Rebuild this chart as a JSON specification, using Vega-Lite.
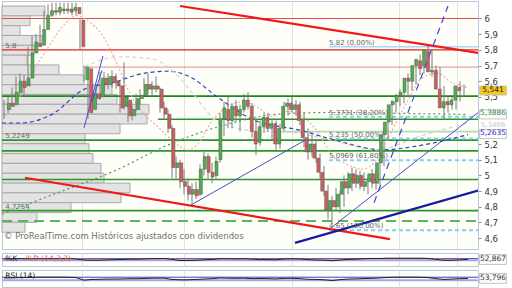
{
"$schema": "https://vega.github.io/schema/vega-lite/v6.json",
"padding": 0,
"spacing": 2,
"background": "#ffffff",
"config": {"view": {"stroke": "#b8c8d8", "fill": "#fffffa"}, "text": {"font": "DejaVu Sans"},
  "axisY": {"labelOverlap": false},
  "locale": {"number": {"decimal": ",", "thousands": ".", "grouping": [3], "currency": ["", " €"]}}},
"datasets": {
"candles": [
{"t":0,"o":5.42,"h":5.48,"l":5.36,"c":5.46},{"t":1,"o":5.46,"h":5.50,"l":5.40,"c":5.44},{"t":2,"o":5.45,"h":5.56,"l":5.44,"c":5.53},{"t":3,"o":5.53,"h":5.63,"l":5.51,"c":5.60},{"t":4,"o":5.60,"h":5.65,"l":5.52,"c":5.56},{"t":5,"o":5.57,"h":5.64,"l":5.50,"c":5.62},{"t":6,"o":5.62,"h":5.82,"l":5.60,"c":5.78},{"t":7,"o":5.78,"h":5.89,"l":5.76,"c":5.85},{"t":8,"o":5.84,"h":5.90,"l":5.79,"c":5.82},{"t":9,"o":5.83,"h":5.96,"l":5.82,"c":5.93},
{"t":10,"o":5.93,"h":6.05,"l":5.91,"c":6.02},{"t":11,"o":6.02,"h":6.09,"l":5.99,"c":6.05},{"t":12,"o":6.05,"h":6.10,"l":6.01,"c":6.04},{"t":13,"o":6.04,"h":6.10,"l":6.02,"c":6.07},{"t":14,"o":6.06,"h":6.10,"l":6.02,"c":6.05},{"t":15,"o":6.05,"h":6.10,"l":6.03,"c":6.06},{"t":16,"o":6.06,"h":6.10,"l":6.03,"c":6.04},{"t":17,"o":6.05,"h":6.10,"l":6.02,"c":6.07},{"t":18,"o":6.07,"h":6.10,"l":6.02,"c":6.03},{"t":19,"o":5.99,"h":6.00,"l":5.80,"c":5.82},
{"t":20,"o":5.61,"h":5.70,"l":5.60,"c":5.69},{"t":21,"o":5.68,"h":5.69,"l":5.36,"c":5.40},{"t":22,"o":5.42,"h":5.56,"l":5.40,"c":5.52},{"t":23,"o":5.52,"h":5.58,"l":5.45,"c":5.49},{"t":24,"o":5.50,"h":5.66,"l":5.48,"c":5.62},{"t":25,"o":5.62,"h":5.66,"l":5.54,"c":5.58},{"t":26,"o":5.58,"h":5.65,"l":5.55,"c":5.63},{"t":27,"o":5.63,"h":5.67,"l":5.56,"c":5.59},{"t":28,"o":5.60,"h":5.65,"l":5.55,"c":5.57},{"t":29,"o":5.57,"h":5.58,"l":5.40,"c":5.43},
{"t":30,"o":5.44,"h":5.72,"l":5.42,"c":5.50},{"t":31,"o":5.48,"h":5.50,"l":5.34,"c":5.38},{"t":32,"o":5.38,"h":5.44,"l":5.35,"c":5.42},{"t":33,"o":5.42,"h":5.52,"l":5.41,"c":5.49},{"t":34,"o":5.49,"h":5.55,"l":5.45,"c":5.51},{"t":35,"o":5.51,"h":5.62,"l":5.50,"c":5.58},{"t":36,"o":5.58,"h":5.65,"l":5.52,"c":5.55},{"t":37,"o":5.55,"h":5.60,"l":5.50,"c":5.57},{"t":38,"o":5.57,"h":5.63,"l":5.53,"c":5.55},{"t":39,"o":5.55,"h":5.56,"l":5.40,"c":5.43},
{"t":40,"o":5.43,"h":5.47,"l":5.36,"c":5.39},{"t":41,"o":5.39,"h":5.42,"l":5.27,"c":5.30},{"t":42,"o":5.30,"h":5.32,"l":4.98,"c":5.05},{"t":43,"o":5.05,"h":5.12,"l":4.97,"c":5.08},{"t":44,"o":5.08,"h":5.10,"l":4.92,"c":4.96},{"t":45,"o":4.96,"h":5.04,"l":4.88,"c":4.93},{"t":46,"o":4.93,"h":4.98,"l":4.84,"c":4.88},{"t":47,"o":4.88,"h":4.95,"l":4.82,"c":4.91},{"t":48,"o":4.91,"h":4.96,"l":4.85,"c":4.87},{"t":49,"o":4.88,"h":5.07,"l":4.87,"c":5.04},
{"t":50,"o":5.04,"h":5.15,"l":5.00,"c":5.12},{"t":51,"o":5.12,"h":5.14,"l":4.98,"c":5.02},{"t":52,"o":5.02,"h":5.08,"l":4.95,"c":4.99},{"t":53,"o":5.00,"h":5.12,"l":4.98,"c":5.09},{"t":54,"o":5.10,"h":5.40,"l":5.08,"c":5.36},{"t":55,"o":5.36,"h":5.47,"l":5.25,"c":5.43},{"t":56,"o":5.42,"h":5.50,"l":5.30,"c":5.35},{"t":57,"o":5.35,"h":5.46,"l":5.30,"c":5.44},{"t":58,"o":5.44,"h":5.48,"l":5.34,"c":5.38},{"t":59,"o":5.38,"h":5.45,"l":5.28,"c":5.42},
{"t":60,"o":5.42,"h":5.52,"l":5.40,"c":5.48},{"t":61,"o":5.48,"h":5.53,"l":5.42,"c":5.44},{"t":62,"o":5.44,"h":5.46,"l":5.24,"c":5.28},{"t":63,"o":5.28,"h":5.36,"l":5.13,"c":5.20},{"t":64,"o":5.21,"h":5.35,"l":5.19,"c":5.31},{"t":65,"o":5.31,"h":5.40,"l":5.27,"c":5.37},{"t":66,"o":5.37,"h":5.40,"l":5.28,"c":5.30},{"t":67,"o":5.30,"h":5.36,"l":5.22,"c":5.33},{"t":68,"o":5.33,"h":5.35,"l":5.15,"c":5.20},{"t":69,"o":5.20,"h":5.33,"l":5.17,"c":5.30},
{"t":70,"o":5.30,"h":5.47,"l":5.28,"c":5.44},{"t":71,"o":5.44,"h":5.49,"l":5.38,"c":5.46},{"t":72,"o":5.46,"h":5.50,"l":5.40,"c":5.42},{"t":73,"o":5.42,"h":5.48,"l":5.38,"c":5.45},{"t":74,"o":5.45,"h":5.47,"l":5.32,"c":5.35},{"t":75,"o":5.35,"h":5.40,"l":5.18,"c":5.24},{"t":76,"o":5.24,"h":5.30,"l":5.10,"c":5.15},{"t":77,"o":5.15,"h":5.26,"l":5.12,"c":5.20},{"t":78,"o":5.20,"h":5.23,"l":5.08,"c":5.11},{"t":79,"o":5.11,"h":5.14,"l":4.98,"c":5.02},
{"t":80,"o":5.02,"h":5.06,"l":4.87,"c":4.90},{"t":81,"o":4.90,"h":4.94,"l":4.72,"c":4.78},{"t":82,"o":4.78,"h":4.87,"l":4.69,"c":4.84},{"t":83,"o":4.84,"h":4.92,"l":4.78,"c":4.80},{"t":84,"o":4.80,"h":4.90,"l":4.76,"c":4.88},{"t":85,"o":4.88,"h":5.00,"l":4.80,"c":4.96},{"t":86,"o":4.96,"h":5.02,"l":4.88,"c":4.92},{"t":87,"o":4.92,"h":5.05,"l":4.90,"c":5.01},{"t":88,"o":5.01,"h":5.04,"l":4.92,"c":4.95},{"t":89,"o":4.95,"h":5.03,"l":4.91,"c":5.00},
{"t":90,"o":5.00,"h":5.02,"l":4.90,"c":4.93},{"t":91,"o":4.93,"h":4.99,"l":4.88,"c":4.96},{"t":92,"o":4.96,"h":5.04,"l":4.92,"c":5.01},{"t":93,"o":5.01,"h":5.03,"l":4.91,"c":4.95},{"t":94,"o":4.95,"h":5.10,"l":4.94,"c":5.08},{"t":95,"o":5.08,"h":5.30,"l":5.06,"c":5.26},{"t":96,"o":5.26,"h":5.36,"l":5.22,"c":5.34},{"t":97,"o":5.34,"h":5.48,"l":5.32,"c":5.45},{"t":98,"o":5.45,"h":5.52,"l":5.40,"c":5.47},{"t":99,"o":5.47,"h":5.55,"l":5.44,"c":5.51},
{"t":100,"o":5.51,"h":5.55,"l":5.46,"c":5.53},{"t":101,"o":5.53,"h":5.65,"l":5.50,"c":5.62},{"t":102,"o":5.62,"h":5.66,"l":5.54,"c":5.60},{"t":103,"o":5.60,"h":5.72,"l":5.58,"c":5.70},{"t":104,"o":5.70,"h":5.77,"l":5.64,"c":5.74},{"t":105,"o":5.73,"h":5.78,"l":5.65,"c":5.68},{"t":106,"o":5.70,"h":5.83,"l":5.68,"c":5.80},{"t":107,"o":5.79,"h":5.80,"l":5.63,"c":5.66},{"t":108,"o":5.66,"h":5.70,"l":5.60,"c":5.67},{"t":109,"o":5.67,"h":5.69,"l":5.52,"c":5.55},
{"t":110,"o":5.55,"h":5.57,"l":5.36,"c":5.43},{"t":111,"o":5.43,"h":5.50,"l":5.40,"c":5.47},{"t":112,"o":5.47,"h":5.50,"l":5.42,"c":5.45},{"t":113,"o":5.45,"h":5.50,"l":5.42,"c":5.48},{"t":114,"o":5.48,"h":5.60,"l":5.47,"c":5.57},{"t":115,"o":5.56,"h":5.58,"l":5.50,"c":5.54}
],
"vp": [
{"hi":6.0795,"lo":6.017,"vol":43},{"hi":6.017,"lo":5.954,"vol":28},{"hi":5.954,"lo":5.892,"vol":18},{"hi":5.892,"lo":5.829,"vol":40},{"hi":5.829,"lo":5.766,"vol":32},{"hi":5.766,"lo":5.704,"vol":25},{"hi":5.704,"lo":5.641,"vol":57},{"hi":5.641,"lo":5.578,"vol":82},{"hi":5.578,"lo":5.516,"vol":110},{"hi":5.516,"lo":5.453,"vol":115},{"hi":5.453,"lo":5.390,"vol":147},{"hi":5.390,"lo":5.328,"vol":145},{"hi":5.328,"lo":5.265,"vol":118},{"hi":5.265,"lo":5.202,"vol":83},{"hi":5.202,"lo":5.139,"vol":87},{"hi":5.139,"lo":5.077,"vol":91},{"hi":5.077,"lo":5.014,"vol":99},{"hi":5.014,"lo":4.951,"vol":102},{"hi":4.951,"lo":4.889,"vol":128},{"hi":4.889,"lo":4.826,"vol":119},{"hi":4.826,"lo":4.763,"vol":69},{"hi":4.763,"lo":4.701,"vol":35},{"hi":4.701,"lo":4.638,"vol":23}
],
"hlines": [
{"p":6.0,"t":-0.5,"t2":118.5,"kind":"red"},
{"p":5.8,"t":-0.5,"t2":118.5,"kind":"redStrong"},
{"p":5.69,"t":20,"t2":118.5,"kind":"redLight"},
{"p":5.82,"t":81.25,"t2":118.5,"kind":"fibTop"},
{"p":5.505,"t":-0.5,"t2":118.5,"kind":"greenStrong"},
{"p":5.358,"t":38.5,"t2":118.5,"kind":"green"},
{"p":5.279,"t":69.5,"t2":118.5,"kind":"greenLight"},
{"p":5.2249,"t":-0.5,"t2":118.5,"kind":"green"},
{"p":5.157,"t":-0.5,"t2":118.5,"kind":"green"},
{"p":4.974,"t":-0.5,"t2":118.5,"kind":"green"},
{"p":4.7754,"t":-0.5,"t2":118.5,"kind":"green"},
{"p":4.71,"t":-0.5,"t2":118.5,"kind":"greenDash"},
{"p":5.3731,"t":81.25,"t2":118.5,"kind":"fib"},
{"p":5.235,"t":81.25,"t2":118.5,"kind":"fib"},
{"p":5.0969,"t":81.25,"t2":118.5,"kind":"fib"},
{"p":4.65,"t":81.25,"t2":118.5,"kind":"fib"}
],
"trends": [
{"t":44,"p":6.0795,"t2":118.75,"p2":5.78,"kind":"redTrend"},
{"t":5.25,"p":4.985,"t2":96.5,"p2":4.594,"kind":"redTrend"},
{"t":72.75,"p":4.57,"t2":118.5,"p2":4.904,"kind":"blueThick"},
{"t":46.5,"p":4.808,"t2":75.25,"p2":5.224,"kind":"blueThin"},
{"t":81.5,"p":4.661,"t2":118.5,"p2":5.40,"kind":"blueThin"},
{"t":20,"p":5.303,"t2":24.75,"p2":5.762,"kind":"blueThin"},
{"t":22,"p":5.468,"t2":24.5,"p2":5.67,"kind":"blueThin"},
{"t":92.5,"p":4.826,"t2":111,"p2":6.0795,"kind":"blueDash"}
],
"mas": [
{"name":"blue","t":-0.5,"p":5.334},{"name":"blue","t":3.75,"p":5.334},{"name":"blue","t":12,"p":5.389},{"name":"blue","t":20,"p":5.548},{"name":"blue","t":27,"p":5.59},{"name":"blue","t":35.25,"p":5.652},{"name":"blue","t":41.25,"p":5.664},{"name":"blue","t":47,"p":5.621},{"name":"blue","t":52.75,"p":5.511},{"name":"blue","t":62,"p":5.358},{"name":"blue","t":74.5,"p":5.285},{"name":"blue","t":84.5,"p":5.212},{"name":"blue","t":94.5,"p":5.163},{"name":"blue","t":104.5,"p":5.193},{"name":"blue","t":116,"p":5.26},
{"name":"green","t":-0.5,"p":4.753},{"name":"green","t":13.25,"p":4.888},{"name":"green","t":27,"p":5.022},{"name":"green","t":42,"p":5.205},{"name":"green","t":57,"p":5.334},{"name":"green","t":67.75,"p":5.389},{"name":"green","t":82,"p":5.401},{"name":"green","t":99.5,"p":5.395},{"name":"green","t":116,"p":5.389},
{"name":"pink","t":-0.5,"p":5.364},{"name":"pink","t":3.25,"p":5.468},{"name":"pink","t":7,"p":5.652},{"name":"pink","t":10.75,"p":5.804},{"name":"pink","t":14.5,"p":5.945},{"name":"pink","t":18.25,"p":6.018},{"name":"pink","t":20.75,"p":5.988},{"name":"pink","t":24.5,"p":5.896},{"name":"pink","t":28.25,"p":5.713},{"name":"pink","t":30.75,"p":5.56},{"name":"pink","t":34.5,"p":5.407},{"name":"pink","t":38.25,"p":5.315},{"name":"pink","t":42,"p":5.224},{"name":"pink","t":45.75,"p":5.163},{"name":"pink","t":48.25,"p":5.193},{"name":"pink","t":52,"p":5.346},{"name":"pink","t":55.75,"p":5.438},{"name":"pink","t":59.5,"p":5.468},{"name":"pink","t":63.25,"p":5.438},{"name":"pink","t":67,"p":5.377},{"name":"pink","t":70.75,"p":5.407},{"name":"pink","t":74.5,"p":5.377},{"name":"pink","t":78.25,"p":5.285},{"name":"pink","t":82,"p":5.132},{"name":"pink","t":85.75,"p":5.071},{"name":"pink","t":89.5,"p":5.04},{"name":"pink","t":93.25,"p":5.101},{"name":"pink","t":97,"p":5.285},{"name":"pink","t":100.75,"p":5.468},{"name":"pink","t":104.5,"p":5.621},{"name":"pink","t":108.25,"p":5.652},{"name":"pink","t":112,"p":5.59},{"name":"pink","t":116,"p":5.56},
{"name":"grey","t":20.25,"p":5.694},{"name":"grey","t":28.75,"p":5.756},{"name":"grey","t":37,"p":5.743},{"name":"grey","t":42,"p":5.67},{"name":"grey","t":47,"p":5.529},{"name":"grey","t":53.25,"p":5.346},{"name":"grey","t":62,"p":5.285},{"name":"grey","t":72,"p":5.273},{"name":"grey","t":82,"p":5.224},{"name":"grey","t":92.75,"p":5.163},{"name":"grey","t":104.5,"p":5.254},{"name":"grey","t":116,"p":5.334}
],
"labels": [
{"t":0.3,"p":5.8,"txt":"5,8"},
{"t":0.3,"p":5.2249,"txt":"5,2249"},
{"t":0.3,"p":4.7754,"txt":"4,7754"},
{"t":81.25,"p":5.82,"txt":"5,82 (0,00%)"},
{"t":81.25,"p":5.3731,"txt":"5,3731 (38,20%)"},
{"t":81.25,"p":5.235,"txt":"5,235 (50,00%)"},
{"t":81.25,"p":5.0969,"txt":"5,0969 (61,80%)"},
{"t":81.25,"p":4.65,"txt":"4,65 (100,00%)"}
],
"notes": [{"t":0,"p":4.617,"txt":"© ProRealTime.com  Históricos ajustados con dividendos"}],
"tags": [
{"p":5.541,"txt":"5,541","kind":"last"},
{"p":5.3886,"txt":"5,3886","kind":"maG"},
{"p":5.3486,"txt":"5,3486","kind":"faded"},
{"p":5.2635,"txt":"5,2635","kind":"maB"}
],
"one": [{"u": 1}],
"stoch": [
{"t":0,"k":71,"d":74},{"t":2,"k":80,"d":76},{"t":4,"k":80,"d":79},{"t":6,"k":76,"d":79},{"t":8,"k":80,"d":78},{"t":10,"k":80,"d":79},{"t":12,"k":80,"d":80},{"t":14,"k":80,"d":80},{"t":16,"k":80,"d":80},{"t":18,"k":71,"d":77},{"t":20,"k":29,"d":60},{"t":22,"k":20,"d":40},{"t":24,"k":24,"d":24},{"t":26,"k":37,"d":27},{"t":28,"k":46,"d":36},{"t":30,"k":54,"d":46},{"t":32,"k":63,"d":54},{"t":34,"k":63,"d":60},{"t":36,"k":80,"d":69},{"t":38,"k":80,"d":74},{"t":40,"k":89,"d":83},{"t":42,"k":54,"d":74},{"t":44,"k":11,"d":51},{"t":46,"k":11,"d":25},{"t":48,"k":20,"d":14},{"t":50,"k":37,"d":23},{"t":52,"k":54,"d":37},{"t":54,"k":80,"d":57},{"t":56,"k":80,"d":71},{"t":58,"k":71,"d":77},{"t":60,"k":80,"d":77},{"t":62,"k":63,"d":71},{"t":64,"k":46,"d":63},{"t":66,"k":46,"d":52},{"t":68,"k":37,"d":43},{"t":70,"k":71,"d":51},{"t":72,"k":76,"d":61},{"t":74,"k":71,"d":73},{"t":76,"k":46,"d":64},{"t":78,"k":29,"d":49},{"t":80,"k":24,"d":33},{"t":82,"k":3,"d":19},{"t":84,"k":29,"d":19},{"t":86,"k":54,"d":29},{"t":88,"k":63,"d":49},{"t":90,"k":80,"d":66},{"t":92,"k":89,"d":77},{"t":94,"k":89,"d":86},{"t":96,"k":97,"d":92},{"t":98,"k":97,"d":94},{"t":100,"k":97,"d":97},{"t":102,"k":97,"d":97},{"t":104,"k":97,"d":97},{"t":106,"k":89,"d":94},{"t":108,"k":54,"d":80},{"t":110,"k":20,"d":54},{"t":112,"k":20,"d":31},{"t":114,"k":37,"d":26},{"t":116,"k":54,"d":37}
],
"rsi": [
{"t":0,"r":60},{"t":2,"r":60},{"t":4,"r":65},{"t":6,"r":65},{"t":8,"r":70},{"t":10,"r":70},{"t":12,"r":70},{"t":14,"r":70},{"t":16,"r":70},{"t":18,"r":65},{"t":20,"r":30},{"t":22,"r":40},{"t":24,"r":42},{"t":26,"r":45},{"t":28,"r":45},{"t":30,"r":47},{"t":32,"r":50},{"t":34,"r":50},{"t":36,"r":55},{"t":38,"r":57},{"t":40,"r":57},{"t":42,"r":40},{"t":44,"r":35},{"t":46,"r":35},{"t":48,"r":40},{"t":50,"r":45},{"t":52,"r":50},{"t":54,"r":60},{"t":56,"r":57},{"t":58,"r":55},{"t":60,"r":57},{"t":62,"r":50},{"t":64,"r":52},{"t":66,"r":50},{"t":68,"r":47},{"t":70,"r":55},{"t":72,"r":55},{"t":74,"r":50},{"t":76,"r":42},{"t":78,"r":40},{"t":80,"r":35},{"t":82,"r":25},{"t":84,"r":37},{"t":86,"r":45},{"t":88,"r":47},{"t":90,"r":52},{"t":92,"r":55},{"t":94,"r":60},{"t":96,"r":67},{"t":98,"r":70},{"t":100,"r":70},{"t":102,"r":70},{"t":104,"r":70},{"t":106,"r":65},{"t":108,"r":50},{"t":110,"r":40},{"t":112,"r":45},{"t":114,"r":50},{"t":116,"r":52}
]
},
"vconcat": [
{
"width": 476, "height": 248,
"resolve": {"scale": {"x": "independent", "color": "independent", "strokeWidth": "independent", "strokeDash": "independent"}},
"layer": [
{"data": {"name": "vp"},
 "mark": {"type": "rect", "fill": "#e3e3e3", "stroke": "#a8a8a8", "strokeWidth": 1},
 "encoding": {
  "x": {"field": "vol", "type": "quantitative", "scale": {"domain": [0, 476], "nice": false, "zero": false}, "axis": null},
  "x2": {"datum": 0},
  "y": {"field": "hi", "type": "quantitative", "scale": {"domain": [4.563, 6.0795], "nice": false, "zero": false},
        "axis": {"orient": "right", "title": null, "grid": false, "values": [4.6,4.7,4.8,4.9,5.0,5.1,5.2,5.5,5.6,5.7,5.8,5.9,6.0], "format": "~g", "tickSize": 3, "tickColor": "#888888", "domainColor": "#b8c8d8", "labelOverlap": false, "labelFontSize": 8.5, "labelFont": "DejaVu Sans", "labelColor": "#333333", "labelPadding": 3}},
  "y2": {"field": "lo"}
 }},
{"data": {"name": "hlines"},
 "mark": {"type": "rule"},
 "encoding": {
  "x": {"field": "t", "type": "quantitative", "scale": {"domain": [-0.5, 118.5], "nice": false, "zero": false},
   "axis": {"grid": true, "gridColor": "#e2e2e2", "values": [19.5, 45, 72, 98.75, 113.25], "labels": false, "ticks": false, "domain": false, "title": null}},
  "x2": {"field": "t2"},
  "y": {"field": "p", "type": "quantitative", "scale": {"domain": [4.563, 6.0795], "nice": false, "zero": false},
        "axis": {"orient": "right", "title": null, "grid": false, "values": [4.6,4.7,4.8,4.9,5.0,5.1,5.2,5.5,5.6,5.7,5.8,5.9,6.0], "format": "~g", "tickSize": 3, "tickColor": "#888888", "domainColor": "#b8c8d8", "labelOverlap": false, "labelFontSize": 8.5, "labelFont": "DejaVu Sans", "labelColor": "#333333", "labelPadding": 3}},
  "color": {"field": "kind", "type": "nominal", "legend": null, "scale": {"domain": ["red","redStrong","redLight","fibTop","greenStrong","green","greenLight","greenDash","fib"], "range": ["#e84a4a","#e82020","#f2a0a0","#a8d8f2","#178a17","#2a962a","#b0dcb0","#5cb45c","#8ccbf0"]}},
  "strokeWidth": {"field": "kind", "type": "nominal", "legend": null, "scale": {"domain": ["red","redStrong","redLight","fibTop","greenStrong","green","greenLight","greenDash","fib"], "range": [1.2, 2, 1.6, 2.5, 2.2, 1.4, 2.5, 1.6, 1.2]}},
  "strokeDash": {"field": "kind", "type": "nominal", "legend": null, "scale": {"domain": ["red","redStrong","redLight","fibTop","greenStrong","green","greenLight","greenDash","fib"], "range": [[1,0],[1,0],[1,0],[1,0],[1,0],[1,0],[1,0],[10,6],[4,3]]}}
 }},
{"data": {"name": "mas"},
 "mark": {"type": "line", "strokeWidth": 1.2, "interpolate": "monotone", "clip": true},
 "encoding": {
  "x": {"field": "t", "type": "quantitative", "scale": {"domain": [-0.5, 118.5], "nice": false, "zero": false}, "axis": null},
  "y": {"field": "p", "type": "quantitative", "scale": {"domain": [4.563, 6.0795], "nice": false, "zero": false},
        "axis": {"orient": "right", "title": null, "grid": false, "values": [4.6,4.7,4.8,4.9,5.0,5.1,5.2,5.5,5.6,5.7,5.8,5.9,6.0], "format": "~g", "tickSize": 3, "tickColor": "#888888", "domainColor": "#b8c8d8", "labelOverlap": false, "labelFontSize": 8.5, "labelFont": "DejaVu Sans", "labelColor": "#333333", "labelPadding": 3}},
  "color": {"field": "name", "type": "nominal", "legend": null, "scale": {"domain": ["blue","green","pink","grey"], "range": ["#3a3ab8","#4a9a5a","#f4a8a8","#d2d2d2"]}},
  "strokeDash": {"field": "name", "type": "nominal", "legend": null, "scale": {"domain": ["blue","green","pink","grey"], "range": [[4,3],[2,3],[2,2],[4,3]]}}
 }},
{"data": {"name": "candles"},
 "mark": {"type": "rule", "color": "#7a7a7a", "strokeWidth": 1, "clip": true},
 "encoding": {
  "x": {"field": "t", "type": "quantitative", "scale": {"domain": [-0.5, 118.5], "nice": false, "zero": false}, "axis": null},
  "y": {"field": "l", "type": "quantitative", "scale": {"domain": [4.563, 6.0795], "nice": false, "zero": false},
        "axis": {"orient": "right", "title": null, "grid": false, "values": [4.6,4.7,4.8,4.9,5.0,5.1,5.2,5.5,5.6,5.7,5.8,5.9,6.0], "format": "~g", "tickSize": 3, "tickColor": "#888888", "domainColor": "#b8c8d8", "labelOverlap": false, "labelFontSize": 8.5, "labelFont": "DejaVu Sans", "labelColor": "#333333", "labelPadding": 3}},
  "y2": {"field": "h"}
 }},
{"data": {"name": "candles"},
 "mark": {"type": "bar", "size": 3, "stroke": "#555555", "strokeWidth": 0.5, "clip": true},
 "encoding": {
  "x": {"field": "t", "type": "quantitative", "scale": {"domain": [-0.5, 118.5], "nice": false, "zero": false}, "axis": null},
  "y": {"field": "o", "type": "quantitative", "scale": {"domain": [4.563, 6.0795], "nice": false, "zero": false},
        "axis": {"orient": "right", "title": null, "grid": false, "values": [4.6,4.7,4.8,4.9,5.0,5.1,5.2,5.5,5.6,5.7,5.8,5.9,6.0], "format": "~g", "tickSize": 3, "tickColor": "#888888", "domainColor": "#b8c8d8", "labelOverlap": false, "labelFontSize": 8.5, "labelFont": "DejaVu Sans", "labelColor": "#333333", "labelPadding": 3}},
  "y2": {"field": "c"},
  "color": {"condition": {"test": "datum.c >= datum.o", "value": "#4cb04c"}, "value": "#d45c5c"}
 }},
{"data": {"name": "trends"},
 "transform": [{"filter": "datum.kind == 'redTrend'"}],
 "mark": {"type": "rule", "clip": true, "color": "#f01818", "strokeWidth": 2.2},
 "encoding": {
  "x": {"field": "t", "type": "quantitative", "scale": {"domain": [-0.5, 118.5], "nice": false, "zero": false}, "axis": null},
  "x2": {"field": "t2"},
  "y": {"field": "p", "type": "quantitative", "scale": {"domain": [4.563, 6.0795], "nice": false, "zero": false},
        "axis": {"orient": "right", "title": null, "grid": false, "values": [4.6,4.7,4.8,4.9,5.0,5.1,5.2,5.5,5.6,5.7,5.8,5.9,6.0], "format": "~g", "tickSize": 3, "tickColor": "#888888", "domainColor": "#b8c8d8", "labelOverlap": false, "labelFontSize": 8.5, "labelFont": "DejaVu Sans", "labelColor": "#333333", "labelPadding": 3}},
  "y2": {"field": "p2"}
 }},
{"data": {"name": "trends"},
 "transform": [{"filter": "datum.kind == 'blueThick'"}],
 "mark": {"type": "rule", "clip": true, "color": "#1a1aa0", "strokeWidth": 2.2},
 "encoding": {
  "x": {"field": "t", "type": "quantitative", "scale": {"domain": [-0.5, 118.5], "nice": false, "zero": false}, "axis": null},
  "x2": {"field": "t2"},
  "y": {"field": "p", "type": "quantitative", "scale": {"domain": [4.563, 6.0795], "nice": false, "zero": false},
        "axis": {"orient": "right", "title": null, "grid": false, "values": [4.6,4.7,4.8,4.9,5.0,5.1,5.2,5.5,5.6,5.7,5.8,5.9,6.0], "format": "~g", "tickSize": 3, "tickColor": "#888888", "domainColor": "#b8c8d8", "labelOverlap": false, "labelFontSize": 8.5, "labelFont": "DejaVu Sans", "labelColor": "#333333", "labelPadding": 3}},
  "y2": {"field": "p2"}
 }},
{"data": {"name": "trends"},
 "transform": [{"filter": "datum.kind == 'blueThin'"}],
 "mark": {"type": "rule", "clip": true, "color": "#4b4bd0", "strokeWidth": 1},
 "encoding": {
  "x": {"field": "t", "type": "quantitative", "scale": {"domain": [-0.5, 118.5], "nice": false, "zero": false}, "axis": null},
  "x2": {"field": "t2"},
  "y": {"field": "p", "type": "quantitative", "scale": {"domain": [4.563, 6.0795], "nice": false, "zero": false},
        "axis": {"orient": "right", "title": null, "grid": false, "values": [4.6,4.7,4.8,4.9,5.0,5.1,5.2,5.5,5.6,5.7,5.8,5.9,6.0], "format": "~g", "tickSize": 3, "tickColor": "#888888", "domainColor": "#b8c8d8", "labelOverlap": false, "labelFontSize": 8.5, "labelFont": "DejaVu Sans", "labelColor": "#333333", "labelPadding": 3}},
  "y2": {"field": "p2"}
 }},
{"data": {"name": "trends"},
 "transform": [{"filter": "datum.kind == 'blueDash'"}],
 "mark": {"type": "rule", "clip": true, "color": "#4646d2", "strokeWidth": 1.2, "strokeDash": [7, 5]},
 "encoding": {
  "x": {"field": "t", "type": "quantitative", "scale": {"domain": [-0.5, 118.5], "nice": false, "zero": false}, "axis": null},
  "x2": {"field": "t2"},
  "y": {"field": "p", "type": "quantitative", "scale": {"domain": [4.563, 6.0795], "nice": false, "zero": false},
        "axis": {"orient": "right", "title": null, "grid": false, "values": [4.6,4.7,4.8,4.9,5.0,5.1,5.2,5.5,5.6,5.7,5.8,5.9,6.0], "format": "~g", "tickSize": 3, "tickColor": "#888888", "domainColor": "#b8c8d8", "labelOverlap": false, "labelFontSize": 8.5, "labelFont": "DejaVu Sans", "labelColor": "#333333", "labelPadding": 3}},
  "y2": {"field": "p2"}
 }},
{"data": {"name": "labels"},
 "mark": {"type": "text", "align": "left", "baseline": "bottom", "dy": -1, "fontSize": 7, "color": "#666666"},
 "encoding": {
  "x": {"field": "t", "type": "quantitative", "scale": {"domain": [-0.5, 118.5], "nice": false, "zero": false}, "axis": null},
  "y": {"field": "p", "type": "quantitative", "scale": {"domain": [4.563, 6.0795], "nice": false, "zero": false},
        "axis": {"orient": "right", "title": null, "grid": false, "values": [4.6,4.7,4.8,4.9,5.0,5.1,5.2,5.5,5.6,5.7,5.8,5.9,6.0], "format": "~g", "tickSize": 3, "tickColor": "#888888", "domainColor": "#b8c8d8", "labelOverlap": false, "labelFontSize": 8.5, "labelFont": "DejaVu Sans", "labelColor": "#333333", "labelPadding": 3}},
  "text": {"field": "txt"}
 }},
{"data": {"name": "notes"},
 "mark": {"type": "text", "align": "left", "baseline": "middle", "fontSize": 8.5, "color": "#707070"},
 "encoding": {
  "x": {"field": "t", "type": "quantitative", "scale": {"domain": [-0.5, 118.5], "nice": false, "zero": false}, "axis": null},
  "y": {"field": "p", "type": "quantitative", "scale": {"domain": [4.563, 6.0795], "nice": false, "zero": false},
        "axis": {"orient": "right", "title": null, "grid": false, "values": [4.6,4.7,4.8,4.9,5.0,5.1,5.2,5.5,5.6,5.7,5.8,5.9,6.0], "format": "~g", "tickSize": 3, "tickColor": "#888888", "domainColor": "#b8c8d8", "labelOverlap": false, "labelFontSize": 8.5, "labelFont": "DejaVu Sans", "labelColor": "#333333", "labelPadding": 3}},
  "text": {"field": "txt"}
 }},
{"data": {"name": "tags"},
 "transform": [{"filter": "datum.kind != 'faded'"}],
 "mark": {"type": "bar", "orient": "horizontal", "size": 9, "stroke": "#c4c4c4", "strokeWidth": 1, "clip": false},
 "encoding": {
  "x": {"datum": 118.9, "type": "quantitative", "scale": {"domain": [-0.5, 118.5], "nice": false, "zero": false}, "axis": null},
  "x2": {"datum": 125.6},
  "y": {"field": "p", "type": "quantitative", "scale": {"domain": [4.563, 6.0795], "nice": false, "zero": false},
        "axis": {"orient": "right", "title": null, "grid": false, "values": [4.6,4.7,4.8,4.9,5.0,5.1,5.2,5.5,5.6,5.7,5.8,5.9,6.0], "format": "~g", "tickSize": 3, "tickColor": "#888888", "domainColor": "#b8c8d8", "labelOverlap": false, "labelFontSize": 8.5, "labelFont": "DejaVu Sans", "labelColor": "#333333", "labelPadding": 3}},
  "color": {"field": "kind", "type": "nominal", "legend": null, "scale": {"domain": ["last","maG","maB"], "range": ["#f4c81c","#fbfbfb","#fbfbfb"]}}
 }},
{"data": {"name": "tags"},
 "transform": [{"filter": "datum.kind != 'faded'"}],
 "mark": {"type": "text", "align": "center", "baseline": "middle", "dy": -1, "fontSize": 7.5, "clip": false},
 "encoding": {
  "x": {"datum": 122.25, "type": "quantitative", "scale": {"domain": [-0.5, 118.5], "nice": false, "zero": false}, "axis": null},
  "y": {"field": "p", "type": "quantitative", "scale": {"domain": [4.563, 6.0795], "nice": false, "zero": false},
        "axis": {"orient": "right", "title": null, "grid": false, "values": [4.6,4.7,4.8,4.9,5.0,5.1,5.2,5.5,5.6,5.7,5.8,5.9,6.0], "format": "~g", "tickSize": 3, "tickColor": "#888888", "domainColor": "#b8c8d8", "labelOverlap": false, "labelFontSize": 8.5, "labelFont": "DejaVu Sans", "labelColor": "#333333", "labelPadding": 3}},
  "text": {"field": "txt"},
  "color": {"field": "kind", "type": "nominal", "legend": null, "scale": {"domain": ["last","maG","maB"], "range": ["#222222","#3c8c50","#3030c0"]}}
 }},
{"data": {"name": "tags"},
 "transform": [{"filter": "datum.kind == 'faded'"}],
 "mark": {"type": "text", "align": "center", "baseline": "top", "dy": 0, "fontSize": 7, "color": "#c8c8c8", "clip": false},
 "encoding": {
  "x": {"datum": 122.25, "type": "quantitative", "scale": {"domain": [-0.5, 118.5], "nice": false, "zero": false}, "axis": null},
  "y": {"field": "p", "type": "quantitative", "scale": {"domain": [4.563, 6.0795], "nice": false, "zero": false},
        "axis": {"orient": "right", "title": null, "grid": false, "values": [4.6,4.7,4.8,4.9,5.0,5.1,5.2,5.5,5.6,5.7,5.8,5.9,6.0], "format": "~g", "tickSize": 3, "tickColor": "#888888", "domainColor": "#b8c8d8", "labelOverlap": false, "labelFontSize": 8.5, "labelFont": "DejaVu Sans", "labelColor": "#333333", "labelPadding": 3}},
  "text": {"field": "txt"}
 }}
]
},
{
"width": 476, "height": 13,
"layer": [
{"data": {"name": "one"},
 "mark": {"type": "rule", "color": "#3c3cc8", "strokeWidth": 1},
 "encoding": {"y": {"datum": 80, "type": "quantitative", "scale": {"domain": [-6, 106], "nice": false, "zero": false}, "axis": null}}},
{"data": {"name": "one"},
 "mark": {"type": "rule", "color": "#a4a4ea", "strokeWidth": 2},
 "encoding": {"y": {"datum": 20, "type": "quantitative", "scale": {"domain": [-6, 106], "nice": false, "zero": false}, "axis": null}}},
{"data": {"name": "stoch"},
 "mark": {"type": "line", "color": "#f08a8a", "strokeWidth": 1.2, "strokeDash": [3, 2]},
 "encoding": {
  "x": {"field": "t", "type": "quantitative", "scale": {"domain": [-0.5, 118.5], "nice": false, "zero": false},
   "axis": {"grid": true, "gridColor": "#e2e2e2", "values": [19.5, 45, 72, 98.75, 113.25], "labels": false, "ticks": false, "domain": false, "title": null}},
  "y": {"field": "d", "type": "quantitative", "scale": {"domain": [-6, 106], "nice": false, "zero": false}, "axis": null}
 }},
{"data": {"name": "stoch"},
 "mark": {"type": "line", "color": "#222222", "strokeWidth": 1},
 "encoding": {
  "x": {"field": "t", "type": "quantitative", "scale": {"domain": [-0.5, 118.5], "nice": false, "zero": false},
   "axis": {"grid": true, "gridColor": "#e2e2e2", "values": [19.5, 45, 72, 98.75, 113.25], "labels": false, "ticks": false, "domain": false, "title": null}},
  "y": {"field": "k", "type": "quantitative", "scale": {"domain": [-6, 106], "nice": false, "zero": false}, "axis": null}
 }},
{"data": {"name": "one"},
 "mark": {"type": "text", "align": "left", "baseline": "middle", "fontSize": 7.5, "color": "#222222", "text": "%K"},
 "encoding": {"x": {"datum": 0.3, "type": "quantitative"}, "y": {"datum": 60, "type": "quantitative"}}},
{"data": {"name": "one"},
 "mark": {"type": "text", "align": "left", "baseline": "middle", "fontSize": 7.5, "color": "#e05a5a", "text": "%D (14,3,3)"},
 "encoding": {"x": {"datum": 5.5, "type": "quantitative"}, "y": {"datum": 60, "type": "quantitative"}}},
{"data": {"name": "one"},
 "mark": {"type": "bar", "orient": "horizontal", "size": 10, "fill": "#fbfbfb", "stroke": "#c4c4c4", "strokeWidth": 1},
 "encoding": {"x": {"datum": 118.9, "type": "quantitative"}, "x2": {"datum": 125.6}, "y": {"datum": 52.867, "type": "quantitative"}}},
{"data": {"name": "one"},
 "mark": {"type": "text", "align": "center", "baseline": "middle", "fontSize": 7.5, "color": "#333333", "text": "52,867"},
 "encoding": {"x": {"datum": 122.25, "type": "quantitative"}, "y": {"datum": 52.867, "type": "quantitative"}}}
]
},
{
"width": 476, "height": 17,
"layer": [
{"data": {"name": "one"},
 "mark": {"type": "rule", "color": "#3c3cc8", "strokeWidth": 1},
 "encoding": {"y": {"datum": 70, "type": "quantitative", "scale": {"domain": [5, 100], "nice": false, "zero": false}, "axis": null}}},
{"data": {"name": "one"},
 "mark": {"type": "rule", "color": "#a4a4ea", "strokeWidth": 2},
 "encoding": {"y": {"datum": 30, "type": "quantitative", "scale": {"domain": [5, 100], "nice": false, "zero": false}, "axis": null}}},
{"data": {"name": "rsi"},
 "mark": {"type": "line", "color": "#222222", "strokeWidth": 1},
 "encoding": {
  "x": {"field": "t", "type": "quantitative", "scale": {"domain": [-0.5, 118.5], "nice": false, "zero": false},
   "axis": {"grid": true, "gridColor": "#e2e2e2", "values": [19.5, 45, 72, 98.75, 113.25], "labels": false, "ticks": false, "domain": false, "title": null}},
  "y": {"field": "r", "type": "quantitative", "scale": {"domain": [5, 100], "nice": false, "zero": false}, "axis": null}
 }},
{"data": {"name": "one"},
 "mark": {"type": "text", "align": "left", "baseline": "middle", "fontSize": 7.5, "color": "#222222", "text": "RSI (14)"},
 "encoding": {"x": {"datum": 0.3, "type": "quantitative"}, "y": {"datum": 80, "type": "quantitative"}}},
{"data": {"name": "one"},
 "mark": {"type": "bar", "orient": "horizontal", "size": 10, "fill": "#fbfbfb", "stroke": "#c4c4c4", "strokeWidth": 1},
 "encoding": {"x": {"datum": 118.9, "type": "quantitative"}, "x2": {"datum": 125.6}, "y": {"datum": 53.796, "type": "quantitative"}}},
{"data": {"name": "one"},
 "mark": {"type": "text", "align": "center", "baseline": "middle", "fontSize": 7.5, "color": "#333333", "text": "53,796"},
 "encoding": {"x": {"datum": 122.25, "type": "quantitative"}, "y": {"datum": 53.796, "type": "quantitative"}}}
]
}
]
}
